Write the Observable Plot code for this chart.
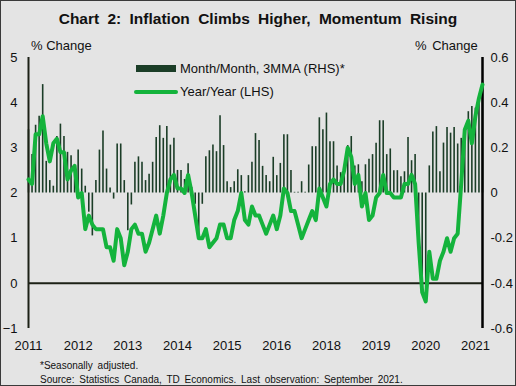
<!DOCTYPE html>
<html>
<head>
<meta charset="utf-8">
<script src="https://cdn.jsdelivr.net/npm/d3@7"></script>
<script src="https://cdn.jsdelivr.net/npm/@observablehq/plot@0.6"></script>
<style>
  html, body { margin: 0; padding: 0; background: #e4e4e4; }
  #wrap { position: relative; width: 516px; height: 386px; background: #e4e4e4; overflow: hidden;
          font-family: "Liberation Sans", Arial, sans-serif; color: #111; }
  #border { position: absolute; left: 0; top: 0; width: 516px; height: 386px; box-sizing: border-box;
            border: 1px solid #3a3a3a; pointer-events: none; z-index: 5; }
  .abs { position: absolute; white-space: nowrap; line-height: 1; }
  #title { left: 0; width: 516px; top: 11px; text-align: center; font-weight: bold; font-size: 15.5px; word-spacing: 4px; }
  .unit { font-size: 13px; top: 39px; }
  .leg { font-size: 13px; left: 180px; }
  .foot { font-size: 10px; left: 40px; word-spacing: 2px; }
  #chart { position: absolute; left: 0; top: 36px; }
</style>
</head>
<body>
<div id="wrap">
  <div id="title" class="abs">Chart 2: Inflation Climbs Higher, Momentum Rising</div>
  <div class="abs unit" style="left:31px">% Change</div>
  <div class="abs unit" style="left:415px; word-spacing:2px">% Change</div>
  <div class="abs" style="left:136px; top:65px; width:40px; height:7px; background:#1b3d27"></div>
  <div class="abs leg" style="top:62px">Month/Month, 3MMA (RHS)*</div>
  <div class="abs" style="left:134px; top:89.5px; width:44px; height:4px; background:#14b33c; border-radius:2px"></div>
  <div class="abs leg" style="top:85px">Year/Year (LHS)</div>
  <div id="chart"></div>
  <div class="abs foot" style="top:361px">*Seasonally adjusted.</div>
  <div class="abs foot" style="top:375px">Source: Statistics Canada, TD Economics. Last observation: September 2021.</div>
  <div id="border"></div>
</div>
<script>
// Monthly data, Jan 2011 .. Sep 2021 (129 months)
const startYear = 2011;
const yoy = [
  2.3,2.2,3.3,3.3,3.7,3.1,2.7,3.1,3.2,2.9,2.9,2.3,
  2.5,2.6,1.9,2.0,1.2,1.5,1.3,1.2,1.2,1.2,0.8,0.8,
  0.5,1.2,1.0,0.4,0.7,1.2,1.3,1.1,1.1,0.7,0.9,1.2,
  1.5,1.1,1.5,2.0,2.3,2.4,2.1,2.1,2.0,2.4,2.0,1.5,
  1.0,1.0,1.2,0.8,0.9,1.0,1.3,1.3,1.0,1.0,1.4,1.6,
  2.0,1.4,1.3,1.7,1.5,1.5,1.3,1.1,1.3,1.5,1.2,1.5,
  2.1,2.0,1.6,1.6,1.3,1.0,1.2,1.4,1.6,1.4,2.1,1.9,
  1.7,2.2,2.3,2.2,2.2,2.5,3.0,2.8,2.2,2.4,1.7,2.0,
  1.4,1.5,1.9,2.0,2.4,2.0,2.0,1.9,1.9,1.9,2.2,2.2,
  2.4,2.2,0.9,-0.2,-0.4,0.7,0.1,0.1,0.5,0.7,1.0,0.7,
  1.0,1.1,2.2,3.4,3.6,3.1,3.7,4.1,4.4
];
const mom3mma = [
  0.28,0.17,0.30,0.34,0.48,0.14,0.055,0.03,0.25,0.305,0.25,0.18,
  0.165,0.10,0.19,0.106,0.03,-0.085,-0.19,0.055,0.19,0.275,0.106,0.022,
  -0.027,0.217,0.217,0.055,-0.167,-0.053,0.136,0.16,0.136,0.055,0.083,0.136,
  0.246,0.298,0.242,0.294,0.212,0.242,0.10,0.10,0.06,0.13,0.025,-0.05,
  -0.21,-0.05,0.16,0.187,0.212,0.183,0.342,0.21,0.05,0.024,0.05,0.103,
  0.077,0.005,0.077,0.136,0.263,0.232,0.118,0.077,0.05,0.158,0.077,0.131,
  0.258,0.258,0.10,0.003,0.003,0.05,0.003,0.124,0.205,0.205,0.333,0.28,
  0.354,0.227,0.227,0.12,0.09,0.09,0.21,0.25,0.12,0.125,0.05,0.125,
  0.15,0.17,0.22,0.32,0.32,0.17,0.195,0.099,0.099,0.072,0.094,0.246,
  0.143,0.17,-0.2,-0.42,-0.42,0.12,0.27,0.294,0.094,0.221,0.29,0.265,
  0.29,0.217,0.242,0.29,0.36,0.383,0.376,0.40,0.497
];
// x-axis labels as in the original (one label every 14 months)
const xTickMonths = [0,14,28,42,56,70,84,98,112,126];
const xTickLabels = ["2011","2012","2013","2014","2015","2016","2018","2019","2020","2021"];
const lhsTicks = [-1,0,1,2,3,4,5];
const rhsTicks = [-0.6,-0.4,-0.2,0,0.2,0.4,0.6];

// RHS value r is drawn on the LHS scale at 2 + 5r
const toL = r => 2 + 5 * r;
const toR = l => (l - 2) / 5;

const data = yoy.map((v, i) => ({i, yoy: v, mom: mom3mma[i]}));
const xLabel = new Map(xTickMonths.map((m, k) => [m, xTickLabels[k]]));

const chart = Plot.plot({
  width: 516,
  height: 320,
  marginTop: 21,
  marginBottom: 28,
  marginLeft: 28,
  marginRight: 34,
  style: {background: "transparent", fontFamily: "'Liberation Sans', Arial, sans-serif", fontSize: "13px", color: "#111", overflow: "visible"},
  x: {domain: [0, yoy.length - 1], axis: null},
  y: {domain: [-1, 5], axis: null},
  marks: [
    Plot.ruleX(data, {x: "i", y1: toL(0), y2: d => toL(d.mom), stroke: "#1b3d27", strokeWidth: 1.6}),
    Plot.ruleY([0], {stroke: "#1c2116", strokeWidth: 2}),
    Plot.ruleX([0], {stroke: "#1c2116", strokeWidth: 2}),
    Plot.ruleX([yoy.length - 1], {stroke: "#000", strokeWidth: 2.5}),
    Plot.lineY(data, {x: "i", y: "yoy", stroke: "#14b33c", strokeWidth: 4, strokeLinejoin: "round", strokeLinecap: "round"}),
    Plot.axisY(lhsTicks, {anchor: "left", tickSize: 0, tickPadding: 11, fontSize: 13, label: null}),
    Plot.axisY(rhsTicks.map(toL), {anchor: "right", tickSize: 0, tickPadding: 8, fontSize: 13, label: null,
      tickFormat: l => { const r = Math.round(toR(l) * 10) / 10; return r === 0 ? "0" : r.toString(); }}),
    Plot.axisX(xTickMonths, {anchor: "bottom", tickSize: 0, tickPadding: 12, fontSize: 13, label: null, tickFormat: m => xLabel.get(m)})
  ]
});
document.getElementById("chart").appendChild(chart);
</script>
</body>
</html>
